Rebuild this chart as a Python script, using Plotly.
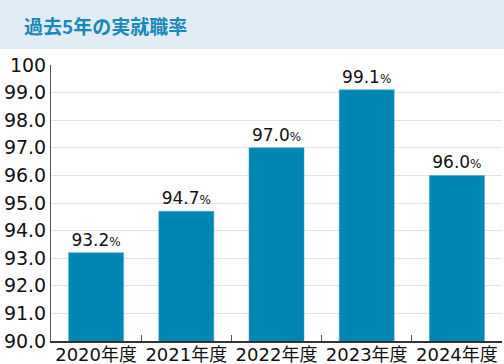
import plotly.graph_objects as go

categories = ["2020年度", "2021年度", "2022年度", "2023年度", "2024年度"]
rates = [93.2, 94.7, 97.0, 99.1, 96.0]
y_ticks = [90, 91, 92, 93, 94, 95, 96, 97, 98, 99, 100]
y_tick_labels = ["90.0", "91.0", "92.0", "93.0", "94.0", "95.0", "96.0", "97.0", "98.0", "99.0", "100"]
title_text = "過去5年の実就職率"

FONT = "DejaVu Sans, Noto Sans CJK JP"
CJK = "Noto Sans CJK JP"
W, H = 504, 364
ML, MR, MT, MB = 51, 2, 65, 23
PW, PH = W - ML - MR, H - MT - MB

labels = [f"{v:.1f}<span style='font-size:12px'>%</span>" for v in rates]

fig = go.Figure(go.Bar(
    x=categories, y=rates, base=0,
    marker=dict(color="#0086b3", line=dict(color="#3fa3c8", width=0.5)),
    text=labels, textposition="outside", cliponaxis=False,
    textfont=dict(family=FONT, size=17, color="#111"),
    width=0.61,
))

fig.update_layout(
    width=W, height=H, autosize=False,
    margin=dict(l=ML, r=MR, t=MT, b=MB, autoexpand=False),
    paper_bgcolor="white", plot_bgcolor="white",
    showlegend=False,
    font=dict(family=FONT, color="#111"),
    xaxis=dict(
        showgrid=False, showline=True, linecolor="#333", linewidth=1.5,
        ticks="inside", ticklen=6, tickcolor="#555", tickson="boundaries",
        tickfont=dict(family=FONT, size=18, color="#111"),
        tickangle=0, automargin=False, ticklabelstandoff=-3,
        range=[-0.5, 4.5],
    ),
    yaxis=dict(
        range=[90, 100], tickvals=y_ticks, ticktext=y_tick_labels,
        showgrid=True, gridcolor="#e2e2e2", gridwidth=1,
        showline=True, linecolor="#555", linewidth=1,
        ticks="", tickfont=dict(family=FONT, size=19, color="#111"),
        zeroline=False, automargin=False,
    ),
    shapes=[dict(
        type="rect", xref="paper", yref="paper",
        x0=-ML / PW, x1=1 + MR / PW,
        y0=1 + (MT - 49) / PH, y1=1 + MT / PH,
        fillcolor="#e1edf5", line=dict(width=0), layer="below",
    )],
    annotations=[dict(
        text=f"<b>{title_text}</b>", xref="paper", yref="paper",
        x=(22 - ML) / PW, y=1 + (MT - 25) / PH,
        xanchor="left", yanchor="middle", showarrow=False,
        font=dict(family=CJK, size=19, color="#1889b8"),
    )],
)

fig.write_html(
    "out.html",
    config={"displayModeBar": False, "responsive": False},
    post_script="document.body.style.margin='0';document.body.style.padding='0';",
)
